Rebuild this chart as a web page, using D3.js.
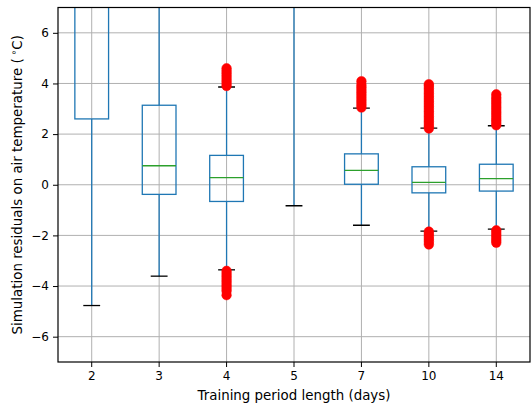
<!DOCTYPE html>
<html>
<head>
<meta charset="utf-8">
<script src="https://cdn.jsdelivr.net/npm/d3@7"></script>
<style>
  body { margin: 0; background: #fff; }
  text { font-family: "DejaVu Sans", sans-serif; }
</style>
</head>
<body>
<div id="chart"></div>
<script>
// training period lengths (days)
const categories = ["2", "3", "4", "5", "7", "10", "14"];

// box statistics per category (values above 7 are off the visible axis)
const whiskerLow  = [-4.77, -3.61, -3.36, -0.83, -1.60, -1.83, -1.75];
const q1          = [ 2.60, -0.38, -0.66,  9.00,  0.02, -0.32, -0.25];
const median      = [ 8.00,  0.75,  0.28, 12.00,  0.57,  0.09,  0.24];
const q3          = [14.00,  3.14,  1.16, 15.00,  1.22,  0.71,  0.81];
const whiskerHigh = [20.00,  9.00,  3.86, 25.00,  3.03,  2.24,  2.33];

// outlier values per category
const outliers = [
  [],
  [],
  [3.9, 4.0, 4.1, 4.2, 4.3, 4.4, 4.5, 4.6, -3.4, -3.5, -3.6, -3.7, -3.8, -3.9, -4.0, -4.1, -4.2, -4.36],
  [],
  [3.05, 3.15, 3.25, 3.35, 3.45, 3.55, 3.65, 3.75, 3.85, 3.95, 4.09],
  [2.22, 2.3, 2.4, 2.5, 2.6, 2.7, 2.8, 2.9, 3.0, 3.1, 3.2, 3.3, 3.4, 3.5, 3.6, 3.7, 3.8, 3.9, 3.97, -1.85, -1.95, -2.05, -2.15, -2.25, -2.36],
  [2.35, 2.45, 2.55, 2.65, 2.75, 2.85, 2.95, 3.05, 3.15, 3.25, 3.35, 3.45, 3.57, -1.8, -1.9, -2.0, -2.1, -2.2, -2.29]
];

const yTicks = [-6, -4, -2, 0, 2, 4, 6];

const width = 531;
const height = 405;
const margin = {top: 7.5, right: 1, bottom: 43, left: 58};
const plotW = width - margin.left - margin.right;
const plotH = height - margin.top - margin.bottom;

const svg = d3.select("#chart")
              .append("svg")
              .attr("width", width)
              .attr("height", height);

const x = d3.scaleBand()
            .domain(categories)
            .range([margin.left, margin.left + plotW])
            .paddingInner(0)
            .paddingOuter(0);

const y = d3.scaleLinear()
            .domain([-7, 7])
            .range([margin.top + plotH, margin.top]);

const bw = x.bandwidth();
const cx = c => x(c) + bw / 2;

// grid
const grid = svg.append("g").attr("class", "grid");
grid.selectAll(".hgrid")
    .data(yTicks)
    .enter()
    .append("line")
    .attr("x1", margin.left)
    .attr("x2", margin.left + plotW)
    .attr("y1", d => y(d))
    .attr("y2", d => y(d))
    .style("stroke", "#b0b0b0")
    .style("stroke-width", 1);
grid.selectAll(".vgrid")
    .data(categories)
    .enter()
    .append("line")
    .attr("x1", d => cx(d))
    .attr("x2", d => cx(d))
    .attr("y1", margin.top)
    .attr("y2", margin.top + plotH)
    .style("stroke", "#b0b0b0")
    .style("stroke-width", 1);

svg.append("clipPath")
   .attr("id", "plot-clip")
   .append("rect")
   .attr("x", margin.left)
   .attr("y", margin.top)
   .attr("width", plotW)
   .attr("height", plotH);

const boxes = svg.append("g").attr("clip-path", "url(#plot-clip)");

const stats = categories.map((c, i) => ({
    cat: c,
    lo: whiskerLow[i], q1: q1[i], med: median[i], q3: q3[i], hi: whiskerHigh[i],
    out: outliers[i]
}));

const blue = "#1f77b4";
const boxW = bw * 0.5;
const capW = bw * 0.25;

stats.forEach(d => {
    const c = cx(d.cat);
    const g = boxes.append("g");
    // whiskers
    g.append("line")
     .attr("x1", c).attr("x2", c)
     .attr("y1", y(d.q1)).attr("y2", y(d.lo))
     .style("stroke", blue).style("stroke-width", 1.3);
    g.append("line")
     .attr("x1", c).attr("x2", c)
     .attr("y1", y(d.q3)).attr("y2", y(d.hi))
     .style("stroke", blue).style("stroke-width", 1.3);
    // box
    g.append("rect")
     .attr("x", c - boxW / 2)
     .attr("y", y(d.q3))
     .attr("width", boxW)
     .attr("height", y(d.q1) - y(d.q3))
     .style("fill", "none")
     .style("stroke", blue)
     .style("stroke-width", 1.3);
    // median
    g.append("line")
     .attr("x1", c - boxW / 2).attr("x2", c + boxW / 2)
     .attr("y1", y(d.med)).attr("y2", y(d.med))
     .style("stroke", "#2ca02c").style("stroke-width", 1.3);
    // caps
    [d.lo, d.hi].forEach(v => {
        g.append("line")
         .attr("x1", c - capW / 2).attr("x2", c + capW / 2)
         .attr("y1", y(v)).attr("y2", y(v))
         .style("stroke", "#000").style("stroke-width", 1.3);
    });
    // outliers
    g.selectAll("circle")
     .data(d.out)
     .enter()
     .append("circle")
     .attr("cx", c)
     .attr("cy", v => y(v))
     .attr("r", 4.8)
     .style("fill", "#ff0000")
     .style("stroke", "#ff0000")
     .style("stroke-width", 0.5);
});

// axes
const yAxis = d3.axisLeft(y).tickValues(yTicks).tickSize(5).tickPadding(4)
                .tickFormat(d => d < 0 ? "\u2212" + Math.abs(d) : d);
const xAxis = d3.axisBottom(x).tickSize(5).tickPadding(4);

svg.append("g")
   .attr("transform", `translate(${margin.left},0)`)
   .call(yAxis)
   .call(g => g.select(".domain").remove())
   .call(g => g.selectAll("text").style("font-size", "12px").style("fill", "#000"));

svg.append("g")
   .attr("transform", `translate(0,${margin.top + plotH})`)
   .call(xAxis)
   .call(g => g.select(".domain").remove())
   .call(g => g.selectAll("text").style("font-size", "12px").style("fill", "#000"));

// frame
svg.append("rect")
   .attr("x", margin.left)
   .attr("y", margin.top)
   .attr("width", plotW)
   .attr("height", plotH)
   .style("fill", "none")
   .style("stroke", "#000")
   .style("stroke-width", 1.2);

svg.append("text")
   .attr("x", margin.left + plotW / 2)
   .attr("y", 400)
   .attr("text-anchor", "middle")
   .style("font-size", "13.4px")
   .text("Training period length (days)");

const ylab = svg.append("text")
   .attr("transform", `translate(21.5,${margin.top + plotH / 2}) rotate(-90)`)
   .attr("text-anchor", "middle")
   .style("font-size", "13.4px");
ylab.append("tspan").text("Simulation residuals on air temperature (\u2009");
ylab.append("tspan").attr("dy", -4.5).style("font-size", "9.5px").text("\u2218");
ylab.append("tspan").attr("dy", 4.5).text("C)");
</script>
</body>
</html>
